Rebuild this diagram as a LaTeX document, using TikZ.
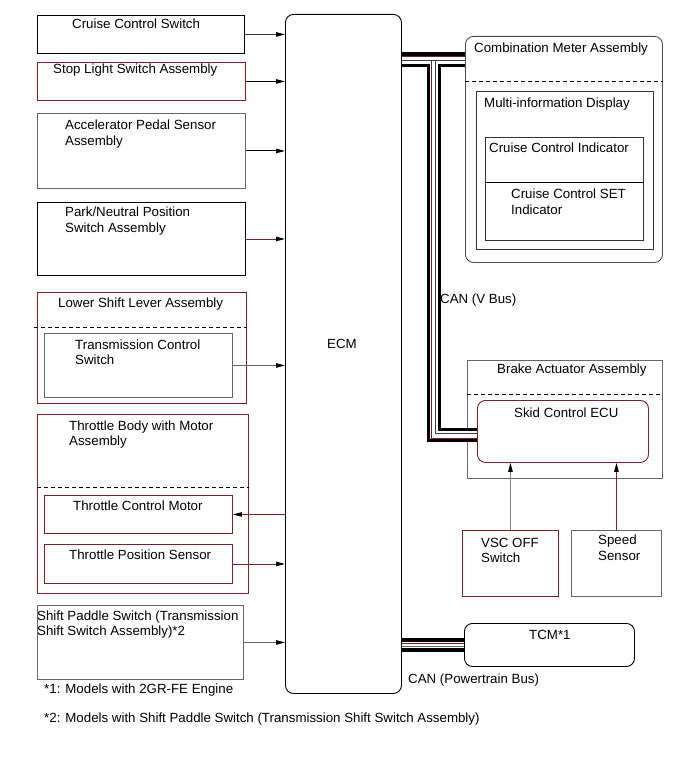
\documentclass[tikz,border=0pt]{standalone}
\usepackage{fontspec}
\setmainfont{Liberation Sans}
\usetikzlibrary{arrows.meta}
\definecolor{dred}{HTML}{7F1F1F}
\definecolor{gry}{HTML}{9A9A9A}
\newcommand\mlines[1]{\begin{tabular}[t]{@{}l@{}}#1\end{tabular}}
\begin{document}
\begin{tikzpicture}[x=1pt,y=-1pt,
  box/.style={draw=#1, line width=0.9pt, inner sep=0pt, anchor=north west},
  box/.default=black,
  txt/.style={inner sep=0pt, anchor=base west, font=\fontsize{13.3}{15.5}\selectfont},
  arr/.style={line width=0.9pt, draw=#1, -{Triangle[length=9pt,width=4.5pt,color=black]}},
  arr/.default=black,
  dsh/.style={line width=0.9pt, dash pattern=on 4pt off 3pt},
  rbox/.style={box=#1, rounded corners=8pt},
  rbox/.default=black,
]
\useasboundingbox (0,0) rectangle (690,759);

% ---- boxes ----
\node[box] (ccs) at (37,15) [minimum width=207pt, minimum height=38pt] {};
\node[box=dred] (sls) at (37,62) [minimum width=208pt, minimum height=38pt] {};
\node[box=black!60] (aps) at (37,113) [minimum width=208pt, minimum height=75pt] {};
\node[box] (pnp) at (37,202) [minimum width=208pt, minimum height=73pt] {};
\node[box=dred] (lsl) at (37,292) [minimum width=209pt, minimum height=111pt] {};
\node[box=black!60] (tcs) at (44,333) [minimum width=188pt, minimum height=64pt] {};
\node[box=dred] (tb) at (37,414) [minimum width=211pt, minimum height=179pt] {};
\node[box=dred] (tcmot) at (44,495) [minimum width=188pt, minimum height=38pt] {};
\node[box=dred] (tps) at (44,544) [minimum width=188pt, minimum height=39pt] {};
\node[box=black!60] (spd) at (37,605) [minimum width=206pt, minimum height=74pt] {};
\node[rbox] (ecm) at (285,14) [minimum width=116pt, minimum height=679pt] {};
\node[rbox=black!70] (cma) at (465,36) [minimum width=197pt, minimum height=226pt] {};
\node[box=black!80] (mid) at (476,91) [minimum width=177pt, minimum height=158pt] {};
\node[box=black!80] (cci) at (485,137) [minimum width=158pt, minimum height=103pt] {};
\node[box=black!60] (baa) at (467,360) [minimum width=195pt, minimum height=118pt] {};
\node[rbox=dred] (sce) at (477,400) [minimum width=171pt, minimum height=62pt] {};
\node[box=dred] (vsc) at (462,530) [minimum width=96pt, minimum height=66pt] {};
\node[box=black!60] (spe) at (571,530) [minimum width=90pt, minimum height=66pt] {};
\node[rbox] (tcm) at (464,623) [minimum width=170pt, minimum height=43pt] {};

% ---- separators ----
\draw[dsh] ([xshift=-3pt]lsl.west |- 0,327) -- (lsl.east |- 0,327);
\draw[dsh] (tb.west |- 0,487) -- (tb.east |- 0,487);
\draw[dsh] (cma.west |- 0,81) -- (cma.east |- 0,81);
\draw[dsh] (baa.west |- 0,394) -- (baa.east |- 0,394);
\draw[line width=0.9pt] (cci.west |- 0,182) -- (cci.east |- 0,182);

% ---- CAN (V Bus) ----
\begin{scope}[line join=miter]
\draw[line width=14.5pt] (ecm.east |- 0,59.7) -- (cma.west |- 0,59.7)
  (434,59.7) -- (434,435) -- (sce.west |- 0,435);
\draw[line width=7.9pt, white] (ecm.east |- 0,59.7) -- (cma.west |- 0,59.7)
  (434,59.7) -- (434,435) -- (sce.west |- 0,435);
\draw[line width=0.7pt, dred] (ecm.east |- 0,56.6) -- (cma.west |- 0,56.6)
  (431,60.5) -- (431,438.3) -- (sce.west |- 0,438.3);
\draw[line width=0.7pt, black!75] (ecm.east |- 0,60.5) -- (cma.west |- 0,60.5)
  (435.3,60.5) -- (435.3,433) -- (sce.west |- 0,433);
% ---- CAN (Powertrain Bus) ----
\draw[line width=13.4pt] (ecm.east |- 0,645) -- (tcm.west |- 0,645);
\draw[line width=6.8pt, white] (ecm.east |- 0,645) -- (tcm.west |- 0,645);
\draw[line width=0.7pt, dred] (ecm.east |- 0,643.8) -- (tcm.west |- 0,643.8);
\draw[line width=0.7pt, black!60] (ecm.east |- 0,646.6) -- (tcm.west |- 0,646.6);
\end{scope}

% ---- arrows ----
\draw[arr=black!80] (ccs.east) -- (ccs.east -| ecm.west);
\draw[arr] (sls.east) -- (sls.east -| ecm.west);
\draw[arr] (aps.east) -- (aps.east -| ecm.west);
\draw[arr=dred] (pnp.east) -- (pnp.east -| ecm.west);
\draw[arr=black!60] (tcs.east) -- (tcs.east -| ecm.west);
\draw[arr=dred] (tcmot.east -| ecm.west) -- (tcmot.east);
\draw[arr=dred] (tps.east) -- (tps.east -| ecm.west);
\draw[arr=black!60] (spd.east) -- (spd.east -| ecm.west);
\draw[arr=black!50] (vsc.north) -- (vsc.north |- sce.south);
\draw[arr=dred] (spe.north) -- (spe.north |- sce.south);

% ---- texts ----
\node[txt] (ccsl) at (72,29) {Cruise Control Switch};
\node[txt] (slsl) at (53,74) {Stop Light Switch Assembly};
\node[txt] (apsl) at (65,130) {\mlines{Accelerator Pedal Sensor\\Assembly}};
\node[txt] (pnpl) at (65,217) {\mlines{Park/Neutral Position\\Switch Assembly}};
\node[txt] (lsll) at (58,307) {Lower Shift Lever Assembly};
\node[txt] (tcsl) at (75,349) {\mlines{Transmission Control\\Switch}};
\node[txt] (tbl) at (69,430) {\mlines{Throttle Body with Motor\\Assembly}};
\node[txt] (tcmotl) at (73,510.5) {Throttle Control Motor};
\node[txt] (tpsl) at (69,559) {Throttle Position Sensor};
\node[txt] (spdl) at (37,620) {\mlines{Shift Paddle Switch (Transmission\\Shift Switch Assembly)*2}};
\node[txt] (n1) at (44,693) {*1: Models with 2GR-FE Engine};
\node[txt] (n2) at (44,722) {*2: Models with Shift Paddle Switch (Transmission Shift Switch Assembly)};
\node[txt] (ecml) at (327,348.5) {ECM};
\node[txt] (cmal) at (474,53) {Combination Meter Assembly};
\node[txt] (midl) at (484,108) {Multi-information Display};
\node[txt] (ccil) at (489,153) {Cruise Control Indicator};
\node[txt] (csetl) at (511,199) {\mlines{Cruise Control SET\\Indicator}};
\node[txt] (canv) at (440,303) {CAN (V Bus)};
\node[txt] (baal) at (497,373.5) {Brake Actuator Assembly};
\node[txt] (scel) at (514,417) {Skid Control ECU};
\node[txt] (vscl) at (481,547) {\mlines{VSC OFF\\Switch}};
\node[txt] (spel) at (598,544.5) {\mlines{Speed\\Sensor}};
\node[txt] (tcml) at (529,639) {TCM*1};
\node[txt] (canp) at (408,683) {CAN (Powertrain Bus)};
\end{tikzpicture}
\end{document}
